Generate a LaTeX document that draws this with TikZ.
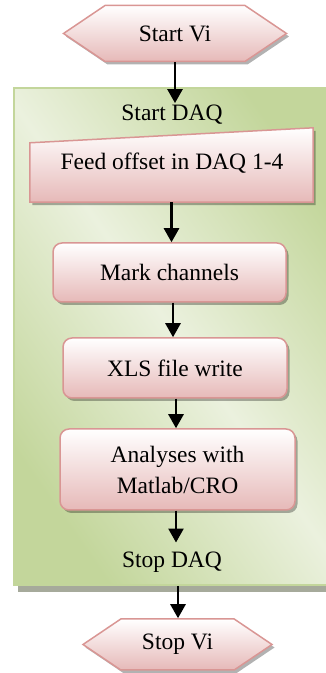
\documentclass[tikz,border=0pt]{standalone}
\usepackage{fontspec}
\setmainfont{Liberation Serif}
\usetikzlibrary{shapes.symbols,shadows,arrows.meta,calc}
\definecolor{pinkB}{HTML}{D99694}
\definecolor{pinkF}{HTML}{E6B9B8}
\definecolor{greenB}{HTML}{C3D69B}
\definecolor{greenL}{HTML}{EBF1DE}
\definecolor{shadowG}{HTML}{A6AA9B}
\begin{document}
\begin{tikzpicture}[x=1pt,y=1pt,
  every node/.style={font=\fontsize{23.5}{31}\selectfont},
  pinkbox/.style={draw=pinkB, line width=1.5pt, top color=white, bottom color=pinkF,
    drop shadow={shadow xshift=2.5pt, shadow yshift=-3pt, fill=black, opacity=0.3}},
  procbox/.style={pinkbox, rectangle, rounded corners=9pt, align=center, inner sep=0pt},
  hexbox/.style={pinkbox, shape=signal, signal to=west and east, signal pointer angle=68, inner sep=0pt},
  plaintext/.style={inner sep=2pt},
  arr/.style={line width=2.6pt, -{Triangle[width=15pt,length=14pt]}},
]
\useasboundingbox (0,0) rectangle (326,673);
\clip (0,0) rectangle (326,673);

% container
\node[draw=greenB, line width=2pt, top color=greenB, bottom color=greenB, middle color=greenL,
  shading angle=-55, minimum width=326, minimum height=497, inner sep=0pt,
  drop shadow={shadow xshift=4pt, shadow yshift=-7pt, fill=shadowG, opacity=1}] (daq) at (177,336.5) {};

\node[hexbox, minimum width=223, minimum height=56] (startvi) at (175,639.5) {Start Vi};
\node[plaintext] (startdaq) at (172,558) {Start DAQ};

\node[inner sep=0pt, minimum width=283, minimum height=74] (feed) at (171.5,508) {};
\path[pinkbox] (feed.south west) -- (feed.south east) -- (feed.north east)
  -- ($(feed.north west)+(0,-15)$) -- cycle;
\node[plaintext] (feedtext) at (172,510) {Feed offset in DAQ 1-4};

\node[procbox, minimum width=233, minimum height=59] (mark) at (169.5,400.5) {Mark channels};
\node[procbox, minimum width=224, minimum height=60] (xls) at (175,305) {XLS file write};
\node[procbox, minimum width=235, minimum height=81] (analyses) at (177.5,203.5) {Analyses with\\Matlab/CRO};
\node[plaintext, inner ysep=9pt] (stopdaq) at (172,111) {Stop DAQ};
\node[hexbox, minimum width=189, minimum height=51] (stopvi) at (177.5,28.5) {Stop Vi};

\draw[arr] (startvi.south) -- (startvi.south |- startdaq.north);
\draw[arr] (feed.south) -- (feed.south |- mark.north);
\draw[arr] ([xshift=3.5pt]mark.south) -- ([xshift=3.5pt]mark.south |- xls.north);
\draw[arr] ([xshift=1pt]xls.south) -- ([xshift=1pt]xls.south |- analyses.north);
\draw[arr] ([xshift=-1.5pt]analyses.south) -- ([xshift=-1.5pt]analyses.south |- stopdaq.north);
\draw[arr] ([xshift=0.5pt]stopvi.north |- daq.south) -- ([xshift=0.5pt]stopvi.north);
\end{tikzpicture}
\end{document}
